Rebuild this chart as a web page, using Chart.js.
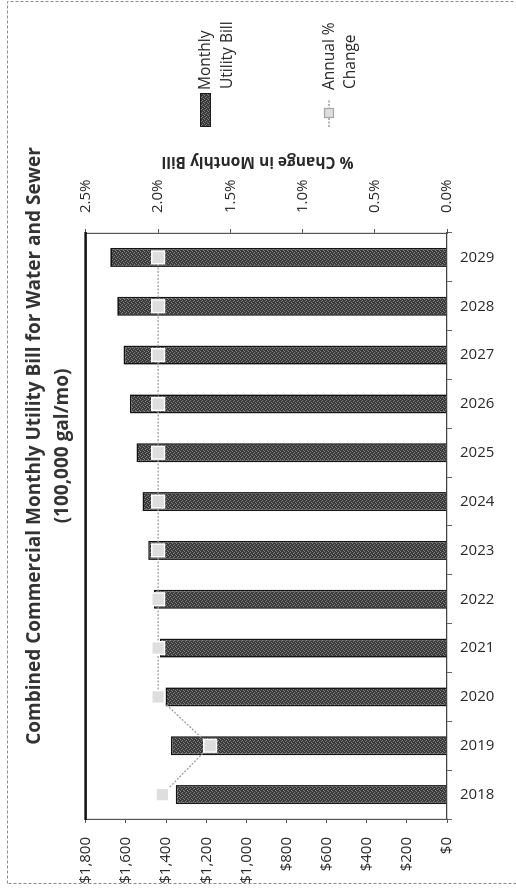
<!DOCTYPE html>
<html>
<head>
<meta charset="utf-8">
<title>Combined Commercial Monthly Utility Bill</title>
<script src="https://cdn.jsdelivr.net/npm/chart.js@4.4.1/dist/chart.umd.min.js"></script>
<style>
  html, body { margin: 0; padding: 0; background: #fff; }
  body { width: 516px; height: 892px; overflow: hidden; position: relative; }
  /* the scanned page is turned a quarter turn, so the chart is drawn landscape and rotated */
  #turn { position: absolute; left: 0; top: 0; width: 892px; height: 516px;
          transform-origin: 0 0; transform: translateY(892px) rotate(-90deg); }
</style>
</head>
<body>
<div id="turn"><canvas id="billChart" width="892" height="516"></canvas></div>
<script>
// data
const years = ['2018', '2019', '2020', '2021', '2022', '2023', '2024', '2025', '2026', '2027', '2028', '2029'];
const monthlyBill = [1352, 1376, 1403, 1431, 1460, 1489, 1518, 1548, 1580, 1612, 1643, 1678];
const annualChange = [1.97, 1.64, 2.0, 2.0, 2.0, 2.0, 2.0, 2.0, 2.0, 2.0, 2.0, 2.0];
const titleLines = ['Combined Commercial Monthly Utility Bill for Water and Sewer', '(100,000 gal/mo)'];
const pctAxisTitle = '% Change in Monthly Bill';
const legendBill = ['Monthly', 'Utility Bill'];
const legendChange = ['Annual %', 'Change'];

const FONT = "'Open Sans', 'DejaVu Sans', sans-serif";
const INK = '#2a2a2a';

// speckled grey like the scanned bars
function stipple() {
  const c = document.createElement('canvas');
  c.width = 4; c.height = 4;
  const g = c.getContext('2d');
  g.fillStyle = '#3c3c3c';
  g.fillRect(0, 0, 4, 4);
  g.fillStyle = '#7e7e7e';
  g.fillRect(0, 0, 1, 1);
  g.fillRect(2, 1, 1, 1);
  g.fillRect(1, 3, 1, 1);
  g.fillRect(3, 2, 1, 1);
  return g.createPattern(c, 'repeat');
}
const barFill = stipple();

// year labels, right axis title, legend and the heavy top rule
const extras = {
  id: 'extras',
  beforeDraw(chart) {
    const ctx = chart.ctx;
    ctx.save();
    ctx.strokeStyle = '#8a8a8a';
    ctx.lineWidth = 1;
    ctx.setLineDash([3, 2]);
    ctx.strokeRect(8.5, 7.5, 882, 520);
    ctx.restore();
  },
  afterDraw(chart) {
    const ctx = chart.ctx;
    const area = chart.chartArea;
    const xs = chart.scales.x;
    ctx.save();

    ctx.fillStyle = '#111';
    ctx.fillRect(area.left - 1, area.top - 1.5, area.right - area.left + 2, 2.5);

    ctx.fillStyle = INK;
    ctx.font = '15px ' + FONT;
    ctx.textAlign = 'left';
    ctx.textBaseline = 'middle';
    years.forEach((yr, i) => {
      ctx.save();
      ctx.translate(xs.getPixelForTick(i), area.bottom + 13);
      ctx.rotate(Math.PI / 2);
      ctx.fillText(yr, 0, 0);
      ctx.restore();
    });

    ctx.save();
    ctx.translate(731, (area.top + area.bottom) / 2 - 9);
    ctx.rotate(-Math.PI / 2);
    ctx.textAlign = 'center';
    ctx.font = 'bold 15.5px ' + FONT;
    ctx.fillText(pctAxisTitle, 0, 0);
    ctx.restore();

    // legend
    ctx.fillStyle = barFill;
    ctx.fillRect(765, 200, 34, 11);
    ctx.strokeStyle = '#1c1c1c';
    ctx.lineWidth = 1;
    ctx.strokeRect(765.5, 200.5, 33, 10);

    ctx.strokeStyle = '#9c9c9c';
    ctx.lineWidth = 1.3;
    ctx.setLineDash([2, 1.5]);
    ctx.beginPath();
    ctx.moveTo(765, 329);
    ctx.lineTo(793, 329);
    ctx.stroke();
    ctx.setLineDash([]);
    ctx.fillStyle = '#dedede';
    ctx.fillRect(774.5, 324.5, 9, 9);
    ctx.strokeStyle = '#aaa';
    ctx.strokeRect(774.5, 324.5, 9, 9);

    ctx.fillStyle = INK;
    ctx.font = '15.5px ' + FONT;
    ctx.textAlign = 'left';
    ctx.fillText(legendBill[0], 802, 206);
    ctx.fillText(legendBill[1], 803, 228);
    ctx.fillText(legendChange[0], 802, 330);
    ctx.fillText(legendChange[1], 803, 351);
    ctx.restore();
  }
};

const tickFont = { family: FONT, size: 15 };

const ctx = document.getElementById('billChart').getContext('2d');
const billChart = new Chart(ctx, {
  data: {
    labels: years,
    datasets: [{
      type: 'line',
      label: 'Annual % Change',
      data: annualChange,
      yAxisID: 'y1',
      order: 0,
      borderColor: '#9c9c9c',
      borderWidth: 1.3,
      borderDash: [2, 1.5],
      tension: 0,
      pointStyle: 'rect',
      pointRadius: 9,
      pointBackgroundColor: '#dedede',
      pointBorderColor: '#ffffff',
      pointBorderWidth: 1.5
    }, {
      type: 'bar',
      label: 'Monthly Utility Bill',
      data: monthlyBill,
      yAxisID: 'y',
      order: 1,
      backgroundColor: barFill,
      borderColor: '#141414',
      borderWidth: 1.6,
      categoryPercentage: 1,
      barPercentage: 0.39
    }]
  },
  options: {
    responsive: false,
    maintainAspectRatio: false,
    animation: false,
    layout: { padding: 0 },
    plugins: {
      legend: { display: false },
      tooltip: { enabled: false },
      title: {
        display: true,
        text: titleLines,
        color: '#333',
        font: { family: FONT, size: 19, weight: 'bold', lineHeight: 1.47 },
        padding: { top: 21, bottom: 9 }
      }
    },
    scales: {
      x: {
        type: 'category',
        offset: true,
        grid: { display: true, drawOnChartArea: false, drawTicks: true, tickLength: 5, color: '#666', offset: true },
        border: { display: true, color: '#444', width: 1.2 },
        ticks: { display: false },
        afterFit(scale) { scale.height = 69; }
      },
      y: {
        position: 'left',
        min: 0,
        max: 1800,
        ticks: {
          stepSize: 200,
          padding: 14,
          color: INK,
          font: tickFont,
          callback: v => '$' + v.toLocaleString('en-US')
        },
        grid: { drawOnChartArea: false, drawTicks: true, tickLength: 4, color: '#555' },
        border: { display: true, color: '#555', width: 1.2 },
        afterFit(scale) { scale.width = 73; }
      },
      y1: {
        position: 'right',
        min: 0,
        max: 2.5,
        ticks: {
          stepSize: 0.5,
          padding: 16,
          color: INK,
          font: tickFont,
          callback: v => v.toFixed(1) + '%'
        },
        grid: { drawOnChartArea: false, drawTicks: true, tickLength: 4, color: '#555' },
        border: { display: true, color: '#555', width: 1.2 },
        afterFit(scale) { scale.width = 233; }
      }
    }
  },
  plugins: [extras]
});
</script>
</body>
</html>
